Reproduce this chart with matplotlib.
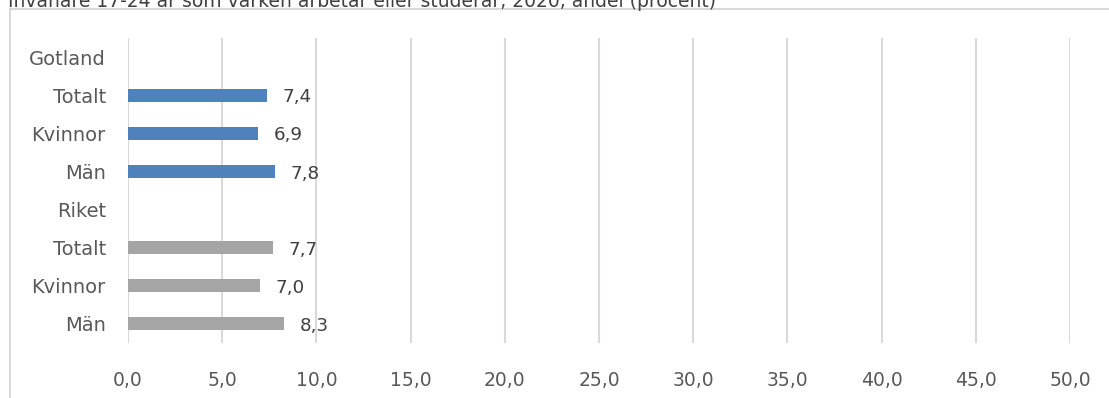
import numpy as np
import matplotlib
matplotlib.use("Agg")
from matplotlib import pyplot as plt
from matplotlib.lines import Line2D

# data
categories = ["Gotland", "Totalt", "Kvinnor", "Män", "Riket", "Totalt", "Kvinnor", "Män"]
values = [np.nan, 7.4, 6.9, 7.8, np.nan, 7.7, 7.0, 8.3]
groups = ["", "Gotland", "Gotland", "Gotland", "", "Riket", "Riket", "Riket"]
x_ticks = [0, 5, 10, 15, 20, 25, 30, 35, 40, 45, 50]
title = "Invånare 17-24 år som varken arbetar eller studerar, 2020, andel (procent)"

group_colors = {"Gotland": "#4F81BD", "Riket": "#A5A5A5", "": "none"}
text_color = "#595959"
grid_color = "#D9D9D9"

plt.rcParams["font.family"] = ["DejaVu Sans"]

fig = plt.figure(figsize=(11.09, 3.98), dpi=100)
ax = fig.add_axes([128 / 1109, 1 - 343 / 398, 942 / 1109, 305 / 398])

y = np.arange(len(categories))
vals = np.nan_to_num(values, nan=0.0)
colors = [group_colors[g] for g in groups]
bars = ax.barh(y, vals, height=0.34, color=colors, zorder=3)

for b, v in zip(bars, values):
    if np.isnan(v):
        continue
    ax.annotate(f"{v:.1f}".replace(".", ","),
                xy=(b.get_width(), b.get_y() + b.get_height() / 2),
                xytext=(11, -1.5), textcoords="offset points",
                ha="left", va="center", fontsize=13.2, color="#404040")

ax.set_xlim(0, 50)
ax.set_ylim(len(categories) - 0.5, -0.5)
ax.set_xticks(x_ticks)
ax.set_xticklabels([f"{t:.1f}".replace(".", ",") for t in x_ticks])
ax.set_yticks(y)
ax.set_yticklabels(categories)
ax.tick_params(axis="both", length=0, colors=text_color)
ax.tick_params(axis="y", pad=16, labelsize=14)
ax.tick_params(axis="x", pad=20, labelsize=13.5)
ax.grid(axis="x", color=grid_color, linewidth=1.5, zorder=0)
ax.grid(axis="y", visible=False)
for s in ax.spines.values():
    s.set_visible(False)

# chart frame
fig.add_artist(Line2D([10 / 1109, 10 / 1109], [0, 1 - 9 / 398],
                      transform=fig.transFigure, color=grid_color, linewidth=1.5))
fig.add_artist(Line2D([10 / 1109, 1], [1 - 9 / 398, 1 - 9 / 398],
                      transform=fig.transFigure, color=grid_color, linewidth=1.5))

# title sits partly above the picture edge, as in the reference
fig.text(8 / 1109, 1 - 7 / 398, title, ha="left", va="baseline",
         fontsize=13.5, color="#404040")

fig.savefig("out.png", dpi=100)
